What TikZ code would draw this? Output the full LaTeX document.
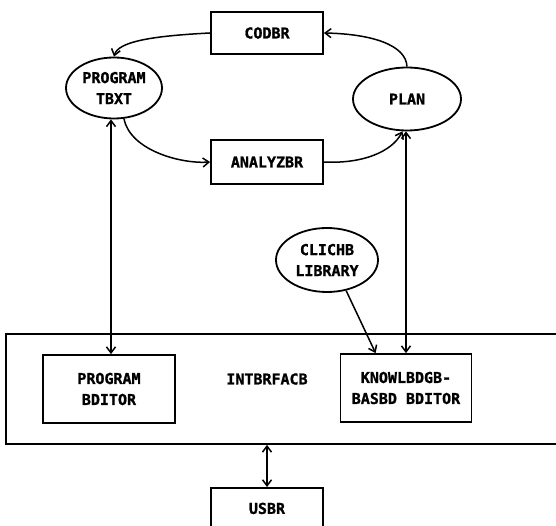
\documentclass[tikz,border=0pt]{standalone}
\usepackage{fontspec}
\setmainfont{DejaVu Sans Mono}[BoldFeatures={FakeBold=1.2}]
\usetikzlibrary{shapes.geometric,arrows.meta}
\begin{document}
\begin{tikzpicture}[x=1pt,y=-1pt,
  lab/.style={font=\fontsize{15}{21}\selectfont\bfseries, align=center},
  box/.style={lab, draw, line width=1.8pt, rectangle, inner sep=0pt, fill=white},
  oval/.style={lab, draw, line width=1.8pt, ellipse, inner sep=0pt, fill=white},
  tip/.style={Straight Barb[length=6pt,width=9pt,line width=1.5pt]},
  arr/.style={line width=1.5pt, -{Straight Barb[length=6pt,width=9pt,line width=1.5pt]}},
  darr/.style={line width=1.5pt, {Straight Barb[length=6pt,width=9pt,line width=1.5pt]}-{Straight Barb[length=6pt,width=9pt,line width=1.5pt]}}]
\useasboundingbox (0,0) rectangle (556,526);
\clip (0,0) rectangle (556,526);
% interface frame
\node[draw, line width=1.8pt, rectangle, minimum width=556pt, minimum height=110pt, inner sep=0pt] (iface) at (284,389) {};
\node[lab] (ifacelab) at (267,379) {INTBRFACB};
% boxes
\node[box, minimum width=112pt, minimum height=42pt] (coder) at (267,33) {CODBR};
\node[box, minimum width=112pt, minimum height=44pt] (analyzer) at (267,162) {ANALYZBR};
\node[box, minimum width=132pt, minimum height=68pt] (pedit) at (109,389) {PROGRAM\\BDITOR};
\node[box, minimum width=131pt, minimum height=68pt] (kbe) at (406,388) {KNOWLBDGB-\\BASBD BDITOR};
\node[box, anchor=north, inner ysep=0pt, text height=26pt, text depth=32pt, minimum width=112pt] (user) at (267,487) {USBR};
% ovals
\node[oval, minimum width=96pt, minimum height=61pt] (ptext) at (114,88) {PROGRAM\\TBXT};
\node[oval, minimum width=108pt, minimum height=63pt] (plan) at (407,99) {PLAN};
\node[oval, minimum width=102pt, minimum height=64pt] (cliche) at (327,260) {CLICHB\\LIBRARY};
% cycle arrows
\draw[arr] (coder.west) .. controls (150,36) and (118,42) .. (ptext.north);
\draw[arr] (plan.north) .. controls (406,45) and (372,34) .. (coder.east);
\draw[arr] (ptext.-72) .. controls (130,150) and (180,164) .. (analyzer.west);
\draw[arr] (analyzer.east) .. controls (362,164) and (392,152) .. (plan.-98);
% vertical links
\draw[darr] ([xshift=-3pt]ptext.south) -- ([xshift=-3pt]ptext.south |- pedit.north);
\draw[darr] ([xshift=-1pt]plan.south) -- ([xshift=-1pt]plan.south |- kbe.north);
\draw[arr] (cliche.-58) -- ([xshift=36pt]kbe.north west);
\draw[darr] (user.north |- iface.south) -- (user.north);
\end{tikzpicture}
\end{document}
